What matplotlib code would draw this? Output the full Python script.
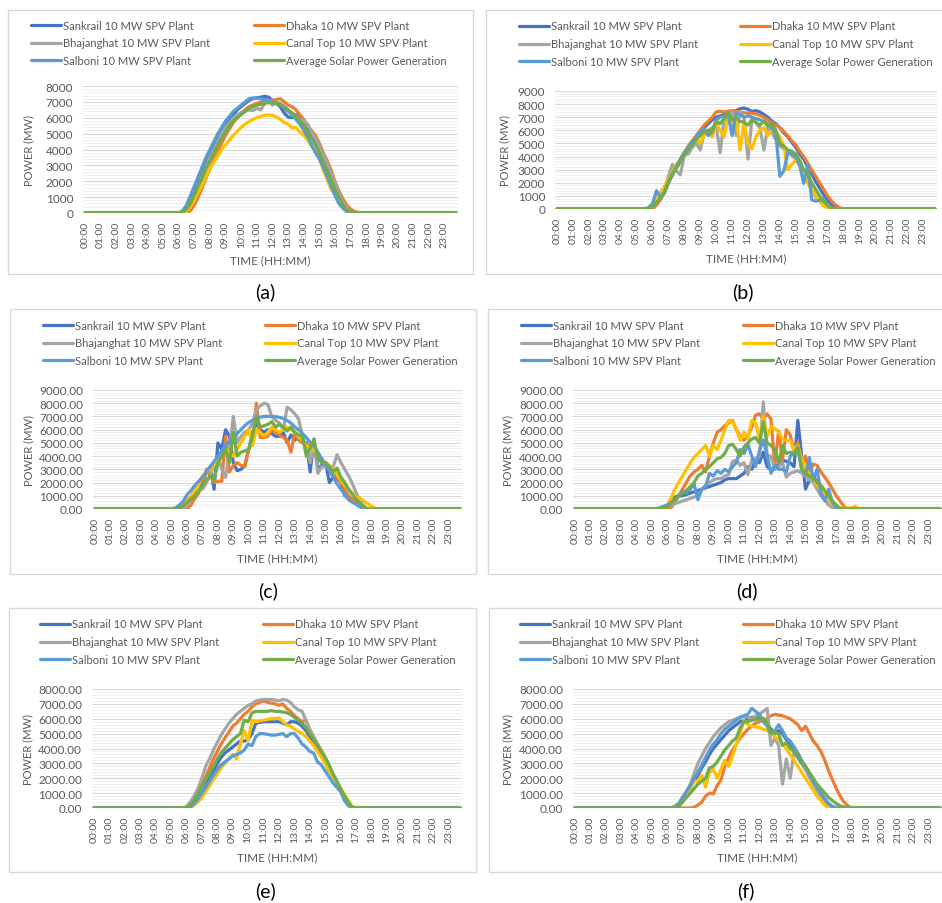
import matplotlib
matplotlib.use('Agg')

import matplotlib.pyplot as plt
from matplotlib.patches import Rectangle
from matplotlib.ticker import MultipleLocator, FormatStrFormatter
import numpy as np

plt.rcParams['font.family'] = ['Lato', 'DejaVu Sans']

W, H = 942, 904

# 15-minute slots over the whole day; the readings below start at 05:00
slot_labels = ['%02d:%02d' % (h, m) for h in range(24) for m in (0, 15, 30, 45)]
first_slot = slot_labels.index('05:00')

plants = ['Sankrail 10 MW SPV Plant', 'Dhaka 10 MW SPV Plant',
          'Bhajanghat 10 MW SPV Plant', 'Canal Top 10 MW SPV Plant',
          'Salboni 10 MW SPV Plant', 'Average Solar Power Generation']
colors = ['#4472C4', '#ED7D31', '#A5A5A5', '#FFC000', '#5B9BD5', '#70AD47']

# ---- day (a): 05:00 .. 18:45, 15 min steps, MW
a_sankrail = [0, 0, 0, 0, 0, 50, 300, 800,
              1400, 2000, 2600, 3200, 3800, 4300, 4800, 5200,
              5600, 5900, 6200, 6500, 6700, 6900, 7100, 7200,
              7250, 7300, 7350, 7300, 7100, 6900, 6700, 6300,
              6050, 6000, 6200, 6100, 5700, 5300, 4900, 4400,
              3800, 3200, 2600, 2000, 1400, 800, 400, 100,
              0, 0, 0, 0, 0, 0, 0, 0]
a_dhaka = [0, 0, 0, 0, 0, 0, 0, 150,
           500, 1000, 1600, 2200, 2800, 3400, 3900, 4400,
           4900, 5300, 5700, 6000, 6300, 6500, 6700, 6800,
           6900, 7000, 7050, 7100, 7100, 7150, 7200, 7000,
           6800, 6700, 6500, 6200, 5900, 5500, 5200, 4900,
           4400, 3800, 3300, 2700, 2000, 1400, 900, 500,
           250, 100, 30, 0, 0, 0, 0, 0]
a_bhajanghat = [0, 0, 0, 0, 0, 30, 200, 600,
                1100, 1700, 2300, 2900, 3500, 4000, 4500, 5000,
                5400, 5700, 6000, 6200, 6300, 6400, 6500, 6450,
                6600, 6500, 6900, 7100, 6800, 7000, 6900, 6700,
                6500, 6300, 6100, 5900, 5800, 5600, 5100, 4700,
                4200, 3700, 3100, 2500, 1900, 1300, 700, 300,
                100, 0, 0, 0, 0, 0, 0, 0]
a_canal = [0, 0, 0, 0, 0, 0, 100, 400,
           800, 1300, 1800, 2300, 2800, 3200, 3600, 4000,
           4300, 4600, 4900, 5150, 5400, 5600, 5750, 5900,
           6000, 6100, 6150, 6180, 6150, 6050, 5900, 5700,
           5600, 5350, 5400, 5100, 4900, 4600, 4200, 3900,
           3400, 2700, 2100, 1500, 1200, 800, 400, 150,
           30, 0, 0, 0, 0, 0, 0, 0]
a_salboni = [0, 0, 0, 0, 0, 150, 500, 1100,
             1700, 2300, 2900, 3500, 4000, 4500, 5000, 5400,
             5800, 6100, 6400, 6600, 6800, 7000, 7200, 7250,
             7250, 7200, 7150, 7100, 7000, 6900, 6800, 6600,
             6400, 6200, 5900, 5600, 5200, 4800, 4300, 3800,
             3400, 2900, 2300, 1700, 1100, 600, 300, 100,
             20, 0, 0, 0, 0, 0, 0, 0]
a_average = [0, 0, 0, 0, 0, 40, 250, 600,
             1100, 1700, 2200, 2800, 3300, 3800, 4300, 4700,
             5100, 5500, 5800, 6000, 6200, 6400, 6600, 6700,
             6800, 6850, 6900, 6950, 6950, 6900, 6850, 6700,
             6500, 6300, 6100, 5800, 5500, 5100, 4700, 4300,
             3800, 3200, 2700, 2100, 1500, 1000, 500, 200,
             60, 0, 0, 0, 0, 0, 0, 0]

# ---- day (b)
b_sankrail = [0, 0, 0, 0, 100, 400, 800, 1400,
              2000, 2600, 3200, 3700, 4200, 4600, 5000, 5400,
              5800, 6200, 6500, 6800, 7000, 7100, 7200, 7300,
              7400, 7500, 7650, 7700, 7600, 7450, 7500, 7400,
              7200, 7000, 6700, 6500, 6200, 5800, 5500, 5100,
              4700, 4200, 3800, 3200, 2700, 2100, 1600, 1100,
              700, 350, 150, 30, 0, 0, 0, 0]
b_dhaka = [0, 0, 0, 0, 0, 300, 700, 1300,
           2000, 2600, 3200, 3800, 4300, 4800, 5200, 5600,
           6000, 6400, 6700, 7000, 7400, 7450, 7400, 7450,
           7500, 7450, 7400, 7350, 7300, 7300, 7250, 7150,
           7000, 6800, 6600, 6400, 6200, 5900, 5600, 5200,
           4900, 4400, 4000, 3500, 3000, 2500, 2000, 1500,
           1000, 600, 300, 100, 0, 0, 0, 0]
b_bhajanghat = [0, 0, 0, 30, 150, 500, 900, 1500,
                2500, 3400, 2900, 2600, 4100, 4200, 4700, 5000,
                4500, 5800, 6000, 6200, 6400, 4300, 6800, 7100,
                7400, 5600, 7400, 7000, 3800, 6900, 6600, 6200,
                4500, 6300, 5800, 5300, 4800, 4600, 4400, 4100,
                3800, 3300, 2800, 2100, 1500, 900, 700, 300,
                80, 0, 0, 0, 0, 0, 0, 0]
b_canal = [0, 0, 0, 100, 400, 800, 1300, 1700,
           2300, 2800, 3400, 3800, 4300, 4600, 5000, 5400,
           5000, 5700, 5800, 5500, 6500, 6000, 5500, 7000,
           6300, 7100, 4500, 6600, 5000, 4600, 5500, 6000,
           6200, 5600, 6000, 5900, 5500, 4800, 3000, 3400,
           3700, 3500, 2600, 2000, 1500, 1000, 600, 250,
           80, 0, 0, 0, 0, 0, 0, 0]
b_salboni = [0, 0, 0, 100, 400, 1400, 900, 1200,
             2000, 2700, 3200, 3800, 4300, 4700, 5100, 5500,
             5900, 6100, 5600, 5900, 6800, 7000, 7100, 7200,
             5600, 7300, 7200, 7000, 7100, 7000, 6900, 6800,
             6700, 6500, 6200, 5700, 2500, 2900, 4300, 4200,
             4000, 3300, 1950, 3400, 700, 600, 650, 800,
             300, 50, 0, 0, 0, 0, 0, 0]
b_average = [0, 0, 0, 30, 200, 500, 800, 1300,
             2100, 2700, 3100, 3600, 4200, 4500, 4900, 5300,
             5600, 5900, 6000, 5900, 6700, 6500, 6900, 7300,
             6800, 7000, 6700, 6600, 6400, 6800, 6600, 6400,
             6700, 6300, 6500, 6000, 5000, 4800, 4500, 4400,
             4200, 3700, 3000, 2700, 2000, 1500, 1000, 600,
             300, 80, 0, 0, 0, 0, 0, 0]

# ---- day (c)
c_sankrail = [0, 0, 50, 150, 400, 700, 1000, 1300,
              2000, 2800, 3200, 1500, 5000, 4500, 6000, 5500,
              3500, 2900, 3000, 3300, 4500, 5800, 6500, 6000,
              5800, 6000, 5700, 5500, 5500, 5800, 5000, 5600,
              5200, 5500, 5100, 5000, 2800, 5300, 3000, 3300,
              3500, 2000, 2400, 2300, 2000, 1000, 900, 700,
              500, 200, 50, 0, 0, 0, 0, 0]
c_dhaka = [0, 0, 0, 0, 0, 300, 800, 1200,
           2000, 3000, 2500, 2000, 2100, 2100, 5500, 2800,
           3300, 3500, 3300, 3200, 4500, 5000, 8000, 5400,
           5400, 5500, 6000, 5800, 5600, 5400, 5200, 4300,
           5800, 5200, 5000, 4800, 4800, 4600, 4000, 3500,
           3500, 3200, 2800, 2400, 2000, 1500, 1000, 700,
           500, 200, 80, 0, 0, 0, 0, 0]
c_bhajanghat = [0, 0, 0, 100, 400, 800, 1100, 1400,
                1500, 2000, 2500, 3500, 4000, 3000, 2400, 4500,
                7000, 5000, 5500, 5800, 6000, 6500, 7500, 7800,
                8000, 7900, 7000, 6700, 6500, 6000, 7700, 7500,
                7200, 6800, 5500, 4500, 3500, 5000, 2700, 3200,
                3200, 3000, 3200, 4100, 3500, 3000, 2500, 1900,
                1200, 600, 200, 0, 0, 0, 0, 0]
c_canal = [0, 0, 100, 300, 700, 1000, 1400, 2000,
           2500, 2800, 3000, 3300, 3800, 4200, 4500, 4300,
           4000, 4500, 5000, 5500, 6000, 4800, 6000, 5800,
           5500, 5800, 6200, 6000, 5800, 6000, 6200, 6000,
           5800, 5500, 5200, 4800, 4500, 4400, 4200, 3800,
           3500, 3300, 3000, 2600, 2200, 1800, 1500, 1200,
           900, 800, 600, 400, 200, 50, 0, 0]
c_salboni = [0, 100, 300, 600, 1100, 1400, 1800, 2100,
             2400, 2800, 3200, 3600, 4000, 4400, 4800, 5100,
             5400, 5700, 6000, 6300, 6550, 6700, 6850, 6950,
             7000, 7000, 7000, 6980, 6930, 6850, 6700, 6500,
             6200, 6000, 5700, 5400, 5050, 4800, 4300, 3800,
             3300, 2900, 2400, 1900, 1500, 1100, 700, 500,
             350, 150, 30, 0, 0, 0, 0, 0]
c_average = [0, 0, 50, 250, 500, 800, 1000, 1400,
             1800, 2200, 2500, 2200, 3500, 4000, 4500, 3500,
             5800, 4000, 4300, 4400, 4500, 5500, 7000, 6200,
             6300, 6400, 6600, 6200, 6400, 6200, 5900, 6200,
             5800, 5600, 5500, 4000, 4600, 5200, 3800, 3500,
             3500, 3200, 2800, 3100, 2400, 2000, 1500, 1100,
             700, 400, 200, 0, 0, 0, 0, 0]

# ---- day (d)
d_sankrail = [0, 0, 0, 100, 200, 500, 900, 1000,
              1000, 1100, 1200, 1300, 1400, 1500, 1600, 1700,
              1800, 1900, 2000, 2200, 2300, 2300, 2300, 2500,
              2700, 3200, 3000, 3800, 3500, 4300, 3200, 3000,
              3000, 3400, 3700, 3600, 3500, 3200, 6700, 4000,
              1500, 2200, 2500, 2000, 1500, 1000, 700, 400,
              200, 0, 0, 0, 0, 0, 0, 0]
d_dhaka = [0, 0, 0, 0, 0, 100, 500, 1000,
           1500, 2000, 2500, 2800, 3000, 3300, 2800, 4000,
           5000, 5800, 6000, 6300, 6500, 6700, 6000, 5500,
           5200, 5500, 6200, 7100, 7200, 6800, 7200, 6800,
           3300, 5900, 3700, 6000, 5600, 4400, 5000, 3000,
           4000, 2800, 3400, 3300, 2800, 2400, 2000, 1500,
           1000, 600, 200, 0, 0, 0, 0, 0]
d_bhajanghat = [0, 0, 0, 100, 200, 300, 400, 500,
                600, 700, 800, 900, 1000, 1500, 1800, 2000,
                2200, 2300, 2300, 2500, 2600, 3600, 3700, 3300,
                3500, 2600, 3700, 3800, 4000, 8100, 4000, 4000,
                3000, 3200, 3500, 2400, 2700, 2800, 2900, 2700,
                2500, 2200, 2000, 1500, 1000, 700, 300, 100,
                0, 0, 0, 0, 0, 0, 0, 0]
d_canal = [0, 0, 0, 0, 300, 800, 1500, 2000,
           2500, 3000, 3500, 3900, 4200, 4500, 4800, 4000,
           4800, 4500, 5200, 6000, 6700, 6600, 6000, 5200,
           5800, 5300, 6700, 6500, 5300, 7000, 5500, 6200,
           6100, 5800, 5300, 5200, 5200, 4500, 4800, 3800,
           3000, 2600, 2200, 1800, 1500, 1100, 700, 400,
           200, 100, 50, 50, 100, 200, 0, 0]
d_salboni = [0, 0, 100, 200, 300, 500, 700, 1000,
             1300, 1200, 1500, 1900, 700, 1500, 1700, 2700,
             2500, 2900, 2700, 3000, 2800, 3200, 3500, 4500,
             4200, 4900, 4000, 3200, 4400, 5200, 4100, 2700,
             3300, 3000, 3000, 2800, 4000, 4200, 4500, 3000,
             2600, 3900, 2200, 3000, 1200, 600, 1500, 500,
             100, 0, 0, 0, 0, 0, 0, 0]
d_average = [0, 0, 0, 100, 200, 450, 700, 1000,
             1200, 1400, 1700, 2000, 2500, 2700, 3000, 3200,
             3500, 3800, 3900, 4200, 4800, 4900, 4500, 4000,
             4700, 5000, 5300, 5400, 5000, 6600, 5000, 4800,
             4500, 3500, 4800, 4200, 4300, 4200, 4700, 3000,
             2700, 2500, 2300, 2000, 1800, 1400, 1000, 600,
             300, 50, 0, 0, 0, 0, 0, 0]

# ---- day (e)
e_sankrail = [0, 0, 0, 0, 0, 50, 300, 600,
              1000, 1500, 2000, 2500, 3000, 3400, 3700, 3900,
              4100, 4300, 4500, 4500, 4600, 5000, 5700, 5750,
              5800, 5800, 5800, 5800, 5800, 5700, 5600, 5800,
              5800, 5700, 5500, 5200, 4800, 4400, 4000, 3600,
              3200, 2700, 2200, 1700, 1200, 700, 300, 50,
              0, 0, 0, 0, 0, 0, 0, 0]
e_dhaka = [0, 0, 0, 0, 0, 150, 500, 1000,
           1500, 2100, 2700, 3300, 3800, 4300, 4700, 5100,
           5500, 5700, 6000, 6300, 6500, 6800, 7000, 7100,
           7200, 7100, 7050, 7000, 6900, 7000, 6700, 6500,
           6200, 6000, 5800, 5900, 5200, 4800, 4300, 3800,
           3300, 2800, 2300, 1800, 1300, 800, 400, 100,
           0, 0, 0, 0, 0, 0, 0, 0]
e_bhajanghat = [0, 0, 0, 0, 100, 400, 800, 1300,
                2000, 2800, 3300, 3900, 4400, 4900, 5300, 5700,
                6000, 6300, 6500, 6700, 6900, 7000, 7200, 7250,
                7300, 7300, 7300, 7250, 7200, 7300, 7250, 7100,
                6800, 6600, 6500, 5900, 5300, 4800, 4300, 3900,
                3400, 2900, 2300, 1800, 1300, 800, 300, 50,
                0, 0, 0, 0, 0, 0, 0, 0]
e_canal = [0, 0, 0, 0, 0, 0, 200, 400,
           700, 1100, 1500, 1900, 2300, 2700, 3000, 3300,
           3600, 3300, 4300, 5200, 4500, 5900, 5800, 5850,
           5900, 5950, 6000, 6000, 6050, 5800, 5600, 5500,
           5300, 5150, 5000, 4800, 4500, 4200, 3800, 3400,
           3000, 2500, 2100, 1700, 1300, 900, 500, 100,
           0, 0, 0, 0, 0, 0, 0, 0]
e_salboni = [0, 0, 0, 0, 0, 50, 300, 600,
             1000, 1400, 1800, 2200, 2600, 2900, 3100, 3300,
             3500, 3600, 3700, 3900, 4300, 4200, 4800, 5000,
             5000, 4950, 4900, 4900, 4950, 5000, 4800, 5000,
             5000, 4700, 4300, 4100, 3800, 3700, 3100, 2900,
             2500, 2100, 1700, 1400, 1100, 500, 150, 0,
             0, 0, 0, 0, 0, 0, 0, 0]
e_average = [0, 0, 0, 0, 50, 200, 500, 1000,
             1500, 1900, 2300, 2800, 3300, 3700, 4000, 4300,
             4600, 4800, 5000, 5900, 5800, 6400, 6500, 6500,
             6500, 6500, 6550, 6500, 6500, 6450, 6400, 6300,
             6100, 5900, 5700, 5400, 5000, 4600, 4200, 3800,
             3400, 2900, 2300, 1800, 1300, 800, 400, 50,
             0, 0, 0, 0, 0, 0, 0, 0]

# ---- day (f)
f_sankrail = [0, 0, 0, 0, 0, 0, 50, 200,
              600, 1000, 1400, 1800, 2200, 2700, 3100, 3600,
              4000, 4300, 4600, 4900, 5200, 5400, 5600, 5800,
              5900, 6000, 6100, 6100, 6100, 6000, 5700, 5300,
              5000, 5200, 5000, 4600, 4200, 3800, 3400, 3000,
              2600, 2100, 1700, 1300, 900, 600, 300, 100,
              0, 0, 0, 0, 0, 0, 0, 0]
f_dhaka = [0, 0, 0, 0, 0, 0, 0, 0,
           0, 0, 0, 50, 200, 400, 800, 1000,
           950, 1500, 1900, 2800, 3400, 3900, 4300, 4700,
           5000, 5300, 5500, 5700, 5800, 5900, 6000, 6200,
           6300, 6250, 6200, 6100, 6000, 5800, 5600, 5200,
           5500, 5000, 4500, 4200, 3800, 3200, 2500, 1900,
           1300, 800, 400, 150, 0, 0, 0, 0]
f_bhajanghat = [0, 0, 0, 0, 0, 0, 100, 300,
                700, 1100, 1600, 2300, 3000, 3500, 4000, 4400,
                4800, 5100, 5400, 5600, 5800, 5900, 6000, 6100,
                6200, 6100, 6000, 6200, 6300, 6500, 6700, 4200,
                4700, 4200, 1600, 3300, 2000, 3800, 3600, 3100,
                2600, 2100, 1600, 1100, 700, 300, 50, 0,
                0, 0, 0, 0, 0, 0, 0, 0]
f_canal = [0, 0, 0, 0, 0, 0, 0, 200,
           700, 1000, 1300, 1800, 1800, 2200, 1400, 2400,
           2600, 2000, 2600, 3200, 2800, 3500, 4300, 5000,
           5900, 5600, 5500, 5450, 5400, 5300, 5200, 5000,
           4800, 4600, 4300, 4000, 3600, 3200, 2800, 2400,
           2000, 1600, 1200, 800, 500, 200, 0, 0,
           0, 0, 0, 0, 0, 0, 0, 0]
f_salboni = [0, 0, 0, 0, 0, 0, 100, 300,
             700, 1100, 1500, 2000, 2400, 2900, 3400, 3900,
             4300, 4600, 5000, 5300, 5500, 5700, 5900, 6100,
             6200, 6300, 6700, 6500, 6300, 5800, 5500, 5000,
             5200, 5600, 5200, 4700, 4500, 4100, 3700, 3200,
             2800, 2300, 1800, 1400, 1000, 600, 300, 50,
             0, 0, 0, 0, 0, 0, 0, 0]
f_average = [0, 0, 0, 0, 0, 0, 50, 100,
             400, 700, 1000, 1300, 1600, 1800, 2000, 2700,
             2800, 3100, 3500, 3900, 4200, 4500, 4700, 5400,
             5800, 5800, 5900, 5950, 6000, 6000, 5700, 5000,
             5100, 5000, 4200, 4400, 4000, 3800, 3500, 3100,
             2800, 2400, 2000, 1600, 1300, 1000, 700, 500,
             300, 150, 60, 0, 0, 0, 0, 0]

panels = [
    ('(a)', [a_sankrail, a_dhaka, a_bhajanghat, a_canal, a_salboni, a_average], 8000, '%d'),
    ('(b)', [b_sankrail, b_dhaka, b_bhajanghat, b_canal, b_salboni, b_average], 9000, '%d'),
    ('(c)', [c_sankrail, c_dhaka, c_bhajanghat, c_canal, c_salboni, c_average], 9000, '%.2f'),
    ('(d)', [d_sankrail, d_dhaka, d_bhajanghat, d_canal, d_salboni, d_average], 9000, '%.2f'),
    ('(e)', [e_sankrail, e_dhaka, e_bhajanghat, e_canal, e_salboni, e_average], 8000, '%.2f'),
    ('(f)', [f_sankrail, f_dhaka, f_bhajanghat, f_canal, f_salboni, f_average], 8000, '%.2f'),
]

# pixel layout of each framed chart
layout = [
    dict(box=(8, 11, 473, 275), axes=(83, 87, 458, 214), leg_x=(31, 254), leg_y=27, row=19,
         cap=(265, 292), ylab_x=34, xlab_y=255),
    dict(box=(486, 11, 946, 275), axes=(555, 92, 937, 210), leg_x=(519, 740), leg_y=28, row=20,
         cap=(743, 292), ylab_x=510, xlab_y=253),
    dict(box=(10, 310, 476, 575), axes=(93, 391, 462, 510), leg_x=(43, 265), leg_y=327, row=20,
         cap=(268, 591), ylab_x=34, xlab_y=553),
    dict(box=(488, 310, 946, 575), axes=(573, 391, 942, 510), leg_x=(521, 743), leg_y=327, row=20,
         cap=(747, 591), ylab_x=513, xlab_y=553),
    dict(box=(9, 609, 476, 873), axes=(92, 690, 462, 809), leg_x=(40, 263), leg_y=626, row=20,
         cap=(266, 891), ylab_x=33, xlab_y=852),
    dict(box=(489, 609, 946, 873), axes=(573, 690, 942, 809), leg_x=(520, 743), leg_y=626, row=20,
         cap=(746, 891), ylab_x=513, xlab_y=852),
]

text_grey = '#595959'
x = np.arange(len(slot_labels))


def full_day(vals):
    day = np.zeros(len(slot_labels))
    day[first_slot:first_slot + len(vals)] = vals
    return day


fig = plt.figure(figsize=(W / 100, H / 100), dpi=100)

for (cap, series, ymax, fmt), lay in zip(panels, layout):
    bx0, by0, bx1, by1 = lay['box']
    fig.patches.append(Rectangle((bx0 / W, 1 - by1 / H), (bx1 - bx0) / W, (by1 - by0) / H,
                                 transform=fig.transFigure, fill=False,
                                 edgecolor='#d9d9d9', linewidth=1.0))

    l, t, r, b = lay['axes']
    ax = fig.add_axes([l / W, 1 - b / H, (r - l) / W, (b - t) / H])
    lines = []
    for vals, name, c in zip(series, plants, colors):
        ln, = ax.plot(x, full_day(vals), color=c, lw=2.3, label=name,
                      solid_joinstyle='round', solid_capstyle='round')
        lines.append(ln)

    ax.set_xlim(-0.5, len(x) - 0.5)
    ax.set_ylim(0, ymax)
    ax.set_xticks(x[::4])
    ax.set_xticklabels(slot_labels[::4], rotation=90)
    ax.yaxis.set_major_locator(MultipleLocator(1000))
    ax.yaxis.set_minor_locator(MultipleLocator(200))
    ax.yaxis.set_major_formatter(FormatStrFormatter(fmt))
    ax.grid(axis='y', which='major', color='#d9d9d9', lw=0.8)
    ax.grid(axis='y', which='minor', color='#eeeeee', lw=0.6)
    ax.set_axisbelow(True)
    for s in ax.spines.values():
        s.set_visible(False)
    ax.tick_params(which='both', length=0)
    ax.tick_params(axis='y', labelsize=8.5, labelcolor=text_grey, pad=7)
    ax.tick_params(axis='x', labelsize=7.5, labelcolor=text_grey, pad=5.5)

    ax.set_ylabel('POWER (MW)', fontsize=8, color=text_grey)
    ax.yaxis.set_label_coords((lay['ylab_x'] - l) / (r - l), 0.5)
    ax.set_xlabel('TIME (HH:MM)', fontsize=8.5, color=text_grey)
    ax.xaxis.set_label_coords(0.5, -(lay['xlab_y'] - b) / (b - t))

    # two legend columns, Excel-style rows across
    for col, idx in enumerate([(0, 2, 4), (1, 3, 5)]):
        fig.legend([lines[i] for i in idx], [plants[i] for i in idx],
                   loc='upper left',
                   bbox_to_anchor=(lay['leg_x'][col] / W, 1 - (lay['leg_y'] - 6.5) / H),
                   frameon=False, borderpad=0, borderaxespad=0,
                   handlelength=2.7, handletextpad=0.2,
                   labelspacing=0.62, fontsize=8, labelcolor=text_grey)

    fig.text(lay['cap'][0] / W, 1 - lay['cap'][1] / H, cap,
             ha='center', va='center', fontsize=14, color='black')

fig.savefig('out.png', dpi=100)
